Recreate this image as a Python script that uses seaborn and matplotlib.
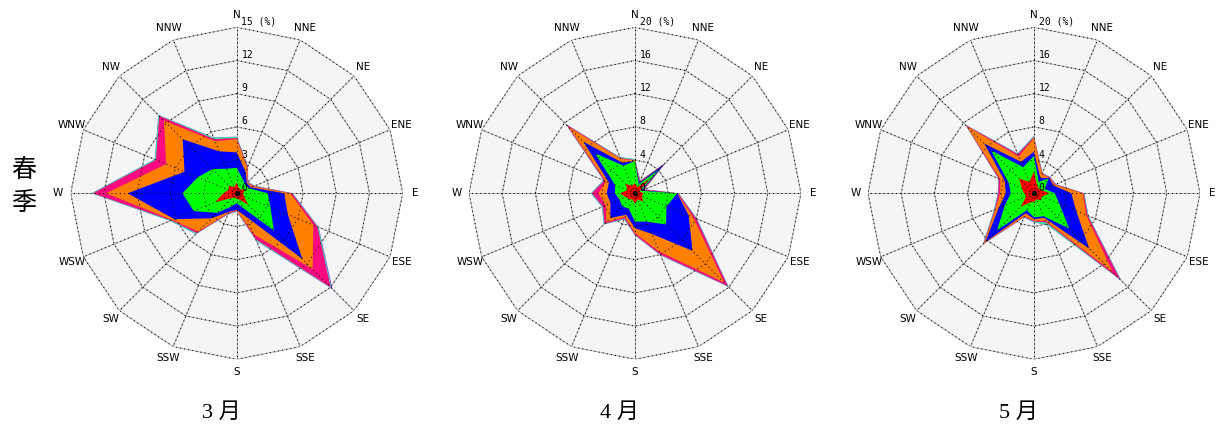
import numpy as np
import matplotlib
matplotlib.use("Agg")
import matplotlib.pyplot as plt
import seaborn as sns

# ---------------------------------------------------------------------------
# Wind-rose data: cumulative frequency (%) for 16 directions,
# innermost wind-speed class first (c1) to all classes (c7).
# ---------------------------------------------------------------------------
directions = ["N", "NNE", "NE", "ENE", "E", "ESE", "SE", "SSE",
              "S", "SSW", "SW", "WSW", "W", "WNW", "NW", "NNW"]
month_titles = ["3 月", "4 月", "5 月"]
season_label = ["春", "季"]

# March
mar_c1 = [1.0, 0.5, 0.5, 0.8, 0.6, 0.7, 1.5, 0.6, 0.5, 0.4, 0.6, 2.1, 1.2, 0.8, 1.0, 0.6]
mar_c2 = [2.3, 1.4, 1.1, 1.2, 2.8, 3.3, 4.75, 1.4, 0.9, 1.3, 2.5, 4.2, 4.9, 3.8, 3.1, 2.4]
mar_c3 = [3.7, 2.1, 1.3, 1.4, 4.3, 5.0, 8.4, 2.3, 1.5, 1.8, 3.2, 6.1, 9.85, 5.1, 6.9, 4.1]
mar_c4 = [4.9, 2.5, 1.35, 1.6, 4.85, 7.5, 9.7, 4.0, 1.55, 1.9, 4.9, 6.3, 11.8, 6.9, 9.3, 5.1]
mar_c5 = [5.0, 2.6, 1.4, 1.7, 5.0, 7.9, 12.0, 4.5, 1.6, 2.0, 5.1, 6.4, 13.0, 7.9, 9.9, 5.3]
mar_c6 = [5.1, 2.65, 1.45, 1.75, 5.05, 8.0, 12.1, 4.65, 1.65, 2.05, 5.2, 6.5, 13.1, 8.0, 10.0, 5.45]
mar_c7 = [5.12, 2.67, 1.47, 1.77, 5.07, 8.03, 12.25, 4.67, 1.67, 2.07, 5.22, 6.52, 13.12, 8.02, 10.02, 5.47]

# April
apr_c1 = [1.2, 0.8, 2.5, 0.6, 1.0, 0.9, 1.4, 0.8, 1.3, 0.8, 1.0, 1.2, 1.8, 1.0, 1.6, 1.0]
apr_c2 = [3.9, 1.2, 4.0, 0.8, 5.1, 4.1, 5.3, 3.7, 3.4, 2.0, 2.2, 2.0, 2.4, 2.6, 6.8, 3.6]
apr_c3 = [3.9, 1.4, 5.0, 1.0, 5.1, 7.0, 9.8, 5.3, 4.2, 2.8, 4.2, 3.2, 3.4, 3.4, 8.8, 4.0]
apr_c4 = [3.95, 1.5, 5.1, 1.1, 5.1, 7.6, 15.2, 7.6, 4.8, 3.1, 4.9, 3.8, 4.4, 3.8, 11.3, 4.5]
apr_c5 = [4.0, 1.6, 5.1, 1.2, 5.2, 8.0, 15.8, 8.0, 5.0, 3.3, 5.2, 4.2, 5.2, 4.0, 11.7, 4.6]
apr_c6 = [4.1, 1.65, 5.15, 1.25, 5.25, 8.1, 15.9, 8.1, 5.05, 3.4, 5.3, 4.3, 5.3, 4.1, 11.8, 4.7]
apr_c7 = [4.12, 1.67, 5.17, 1.27, 5.27, 8.12, 15.95, 8.12, 5.07, 3.42, 5.32, 4.32, 5.32, 4.12, 11.82, 4.72]

# May
may_c1 = [2.6, 1.0, 0.8, 1.0, 1.9, 1.0, 1.2, 0.8, 1.0, 1.2, 2.3, 1.0, 1.2, 1.6, 2.5, 1.5]
may_c2 = [4.5, 1.5, 2.5, 1.4, 2.5, 3.3, 6.0, 3.0, 2.9, 2.2, 6.3, 3.8, 2.8, 3.3, 7.3, 3.4]
may_c3 = [5.0, 2.0, 2.6, 2.5, 4.5, 5.5, 9.4, 3.2, 3.1, 2.6, 8.3, 4.6, 3.4, 3.8, 8.5, 4.1]
may_c4 = [6.7, 2.5, 2.6, 2.7, 5.9, 6.8, 13.4, 3.6, 3.3, 3.0, 8.5, 5.0, 4.1, 4.4, 11.4, 4.8]
may_c5 = [6.8, 2.6, 2.7, 2.8, 6.0, 7.0, 14.7, 3.8, 3.4, 3.1, 8.6, 5.1, 4.3, 4.6, 11.6, 5.1]
may_c6 = [6.9, 2.65, 2.75, 2.85, 6.05, 7.1, 14.85, 4.1, 3.5, 3.15, 8.7, 5.2, 4.35, 4.65, 11.7, 5.2]
may_c7 = [6.92, 2.67, 2.77, 2.87, 6.07, 7.12, 14.9, 4.12, 3.52, 3.17, 8.72, 5.22, 4.37, 4.67, 11.72, 5.22]

radial_max = [15, 20, 20]
radial_ticks = [[0, 3, 6, 9, 12, 15], [0, 4, 8, 12, 16, 20], [0, 4, 8, 12, 16, 20]]

sns.set_theme(style="white")
plt.rcParams["font.family"] = ["DejaVu Sans", "Noto Sans CJK SC"]
plt.rcParams["text.color"] = "black"

class_colors = sns.color_palette(
    ["#ff0000", "#00ff00", "#0000ff", "#ff8000", "#ff0a80", "#30f0a0", "#9040ff"])

W, H = 1216, 432
fig = plt.figure(figsize=(W / 100, H / 100), dpi=100)
fig.patch.set_facecolor("white")

centers_x = [236.7, 635.0, 1034.0]
center_y = 193.3
R = 166.0

theta = np.deg2rad(np.arange(16) * 22.5)
theta_closed = np.r_[theta, theta[0]]

GRID_GREY = "#adadad"
DOTS = (0, (1, 3))


def draw_rose(ax, layers, top, ticks):
    ax.set_theta_zero_location("N")
    ax.set_theta_direction(-1)
    ax.axis("off")

    # light panel inside the outer 16-gon
    ax.fill(theta_closed, np.full(17, top), color="#f5f5f5", lw=0, zorder=0)

    # grey guides under the data
    for v in ticks[1:]:
        sns.lineplot(x=theta_closed, y=np.full(17, float(v)), ax=ax, sort=False,
                     estimator=None, color=GRID_GREY, lw=0.7, zorder=1)
    for t in theta:
        ax.plot([t, t], [0, top], color=GRID_GREY, lw=0.7, zorder=1)

    # stacked speed classes, widest first
    for vals, col in reversed(list(zip(layers, class_colors))):
        v = np.asarray(vals, dtype=float)
        ax.fill(theta_closed, np.r_[v, v[0]], color=col, lw=0, zorder=2)

    # black dotted guides on top of the data
    for v in ticks[1:]:
        ax.plot(theta_closed, np.full(17, v), color="black", lw=0.75, ls=DOTS, zorder=3)
    for t in theta:
        ax.plot([t, t], [0, top], color="black", lw=0.75, ls=DOTS, zorder=3)

    ax.plot([0], [0], "o", ms=3, color="black", zorder=4)

    # radial tick labels along the north spoke
    for v in ticks:
        txt = f"{v} (%)" if v == top else f"{v}"
        ax.annotate(txt, xy=(0, v), xytext=(3.4, 0.4), textcoords="offset points",
                    ha="left", va="bottom", fontsize=7, family="DejaVu Sans Mono",
                    color="black", zorder=5)

    # compass labels
    for t, d in zip(theta, directions):
        ax.text(t, top * 1.075, d, ha="center", va="center", fontsize=7.5,
                family="DejaVu Sans", color="black")

    ax.set_ylim(0, top)


all_layers = [
    [mar_c1, mar_c2, mar_c3, mar_c4, mar_c5, mar_c6, mar_c7],
    [apr_c1, apr_c2, apr_c3, apr_c4, apr_c5, apr_c6, apr_c7],
    [may_c1, may_c2, may_c3, may_c4, may_c5, may_c6, may_c7],
]

for i in range(3):
    cx = centers_x[i]
    rect = [(cx - R) / W, (H - center_y - R) / H, 2 * R / W, 2 * R / H]
    ax = fig.add_axes(rect, projection="polar")
    draw_rose(ax, all_layers[i], radial_max[i], radial_ticks[i])
    fig.text((cx - 15) / W, 1 - 413 / H, month_titles[i], ha="center", va="center",
             fontsize=16, color="black",
             family=["Liberation Serif", "Noto Sans CJK SC"])

fig.text(23.5 / W, 1 - 170 / H, season_label[0], ha="center", va="center",
         fontsize=18, color="black", family=["Noto Sans CJK SC"])
fig.text(23.5 / W, 1 - 203 / H, season_label[1], ha="center", va="center",
         fontsize=18, color="black", family=["Noto Sans CJK SC"])

fig.savefig("out.png", dpi=100, facecolor="white")
